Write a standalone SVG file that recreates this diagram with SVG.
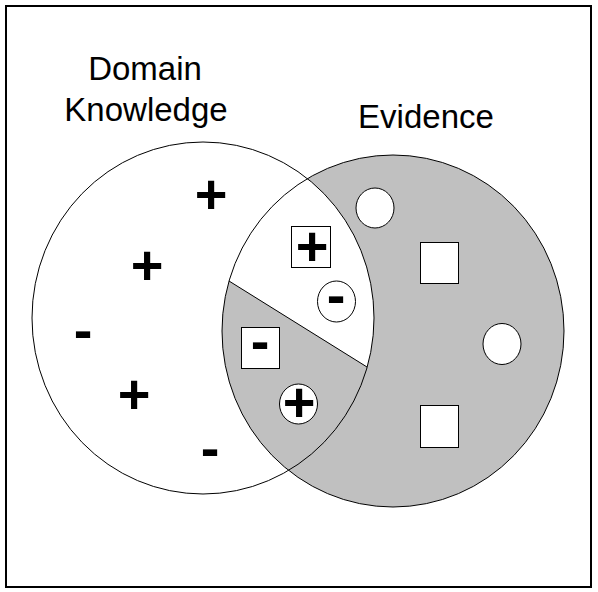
<svg xmlns="http://www.w3.org/2000/svg" width="598" height="592" viewBox="0 0 598 592">
<style>
.lbl{font-family:"Liberation Sans",Arial,sans-serif;font-size:33px;fill:#000;text-anchor:middle}
.sg{font-family:"Liberation Sans",Arial,sans-serif;font-size:56px;font-weight:bold;fill:#000;text-anchor:middle}
.ln{fill:none;stroke:#000;stroke-width:1}
.wh{fill:#fff;stroke:#000;stroke-width:1}
</style>
<defs>
<clipPath id="leftClip"><ellipse cx="203" cy="318" rx="171" ry="176"/></clipPath>
</defs>
<rect x="0" y="0" width="598" height="592" fill="#fff"/>
<rect id="frame" x="6" y="6" width="585" height="581" fill="none" stroke="#000" stroke-width="2"/>
<g id="domain-knowledge">
<ellipse cx="203" cy="318" rx="171" ry="176" fill="#fff"/>
</g>
<g id="evidence">
<ellipse cx="393" cy="331" rx="171" ry="176" fill="#c0c0c0"/>
</g>
<g id="intersection-upper">
<polygon clip-path="url(#leftClip)" points="-47,109 643,539 643,-100 -47,-100" fill="#fff"/>
</g>
<g id="outlines">
<ellipse class="ln" cx="203" cy="318" rx="171" ry="176"/>
<ellipse class="ln" cx="393" cy="331" rx="171" ry="176"/>
</g>
<g id="connectors">
<line x1="229" y1="281" x2="367" y2="367" stroke="#000" stroke-width="1"/>
</g>
<g id="labels">
<text class="lbl" x="145" y="80">Domain</text>
<text class="lbl" x="146" y="121">Knowledge</text>
<text class="lbl" x="426" y="128">Evidence</text>
</g>
<g id="domain-signs">
<text class="sg" x="211" y="213">+</text>
<text class="sg" x="147" y="284">+</text>
<text class="sg" x="83" y="349">-</text>
<text class="sg" x="134" y="413">+</text>
<text class="sg" x="210" y="467">-</text>
</g>
<g id="boxed-plus">
<rect class="wh" x="291.5" y="226.5" width="39" height="41"/>
<text class="sg" x="312" y="265">+</text>
</g>
<g id="circled-minus">
<ellipse class="wh" cx="336.5" cy="301.5" rx="19" ry="20.5"/>
<text class="sg" x="336" y="314">-</text>
</g>
<g id="boxed-minus">
<rect class="wh" x="241.5" y="327.5" width="38" height="41"/>
<text class="sg" x="260" y="360">-</text>
</g>
<g id="circled-plus">
<ellipse class="wh" cx="298.5" cy="404" rx="19" ry="20"/>
<text class="sg" x="299" y="421">+</text>
</g>
<g id="evidence-items">
<ellipse class="wh" cx="375" cy="208" rx="19" ry="20"/>
<rect class="wh" x="420.5" y="242.5" width="38" height="41"/>
<ellipse class="wh" cx="502" cy="344" rx="19" ry="20.5"/>
<rect class="wh" x="420.5" y="405.5" width="38" height="42"/>
</g>
</svg>
